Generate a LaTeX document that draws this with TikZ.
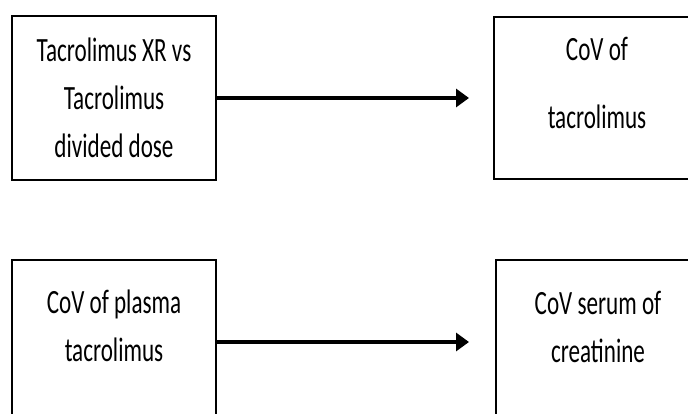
\documentclass[tikz,border=0pt]{standalone}
\usepackage{fontspec}
\setmainfont[FakeStretch=0.68]{Carlito}
\usetikzlibrary{arrows.meta,positioning}

\begin{document}
\begin{tikzpicture}[
x=1pt,y=-1pt,
box/.style={
  draw,
  line width=1.3pt,
  minimum width=204pt,
  minimum height=164pt,
  inner sep=0pt
  },
txt/.style={
  align=center,
  anchor=north,
  inner sep=0pt,
  font=\fontsize{34}{48}\selectfont
  },
link/.style={
  line width=4.5pt,
  -{Triangle[length=13pt,width=18pt]}
  }
]
\clip (0,0) rectangle (688,414);
\useasboundingbox (0,0) rectangle (688,414);

% boxes
\node[box] (xr) at (114,98) {};
\node[box, minimum width=206pt, minimum height=162pt] (covtac) at (597,98) {};
\node[box] (covpl) at (114,342) {};
\node[box] (covcr) at (598,342) {};

% texts
\node[txt] (xrtxt) at ([yshift=-22pt]xr.north) {Tacrolimus XR vs\\Tacrolimus\\divided dose};
\node[txt] (covtactxt) at ([yshift=-21pt]covtac.north) {CoV of\\[20pt]tacrolimus};
\node[txt] (covpltxt) at ([yshift=-30pt]covpl.north) {CoV of plasma\\tacrolimus};
\node[txt] (covcrtxt) at ([yshift=-32pt]covcr.north) {CoV serum of\\creatinine};

% arrows
\coordinate (tipa) at (469,98);
\coordinate (tipb) at (469,342);
\draw[link] (xr.east) -- (tipa);
\draw[link] (covpl.east) -- (tipb);
\end{tikzpicture}
\end{document}
